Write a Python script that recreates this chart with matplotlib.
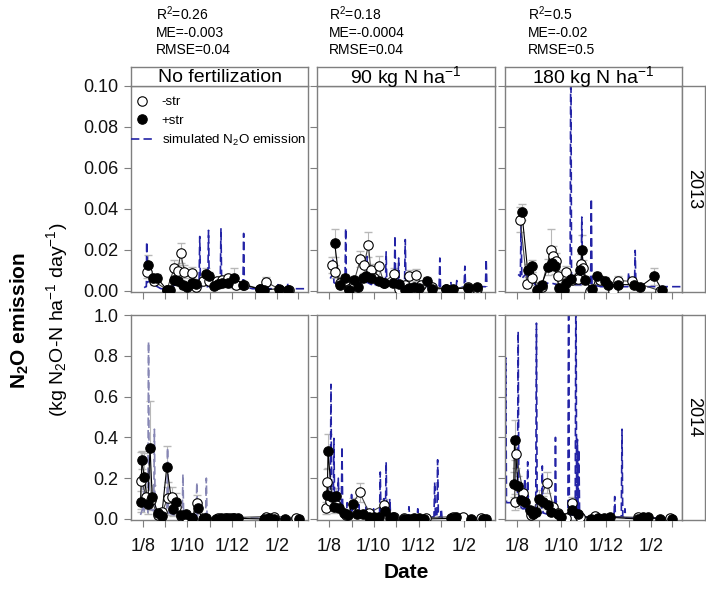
import matplotlib
matplotlib.use("Agg")
import matplotlib.pyplot as plt
from matplotlib.lines import Line2D

plt.rcParams['font.family'] = ['Liberation Sans', 'DejaVu Sans']
plt.rcParams['mathtext.fontset'] = 'custom'
plt.rcParams['mathtext.rm'] = 'Liberation Sans'
plt.rcParams['mathtext.it'] = 'Liberation Sans:italic'
plt.rcParams['mathtext.bf'] = 'Liberation Sans:bold'

# ---------------- data (x = days since 1 August) ----------------
treatments = ["No fertilization", "90 kg N ha$^{-1}$", "180 kg N ha$^{-1}$"]
years = ["2013", "2014"]
stats_r2 = ["0.26", "0.18", "0.5"]
stats_me = ["-0.003", "-0.0004", "-0.02"]
stats_rmse = ["0.04", "0.04", "0.5"]
tick_days = [0, 31, 61, 92, 122, 153, 184, 212]
tick_labels = ["1/8", "", "1/10", "", "1/12", "", "1/2", ""]

# 2013, no fertilization
nf13_m_day = [6, 16, 33, 43, 48, 52, 57, 68, 73, 82, 91, 102, 109, 116, 128, 139, 160, 168, 188, 200]
nf13_m_val = [0.0092, 0.0046, 0.0005, 0.011, 0.0098, 0.0184, 0.0094, 0.0085, 0.002, 0.005, 0.0046,
              0.0046, 0.0054, 0.006, 0.003, 0.003, 0.001, 0.0045, 0.0005, 0.0005]
nf13_m_sd = [0.003, 0.002, 0.001, 0.004, 0.003, 0.005, 0.003, 0.003, 0.001, 0.002, 0.002, 0.002,
             0.002, 0.002, 0.002, 0.001, 0.001, 0.002, 0.001, 0.001]
nf13_p_day = [7, 14, 20, 33, 38, 43, 48, 55, 61, 68, 73, 87, 91, 97, 103, 109, 116, 125, 137, 160, 166, 187, 199]
nf13_p_val = [0.0127, 0.0062, 0.0062, 0.0005, 0.0005, 0.0054, 0.0046, 0.003, 0.0018, 0.004, 0.0034,
              0.0083, 0.0073, 0.0024, 0.0034, 0.0037, 0.0037, 0.0062, 0.003, 0.0008, 0.0005, 0.001, 0.0002]
nf13_p_sd = [0.005, 0.002, 0.002, 0.001, 0.001, 0.002, 0.002, 0.002, 0.001, 0.002, 0.002, 0.003,
             0.002, 0.001, 0.002, 0.002, 0.002, 0.005, 0.001, 0.001, 0.001, 0.001, 0.001]
nf13_sim = [(2, 0.0015), (4, 0.002), (5, 0.002), (5.5, 0.024), (6, 0.004), (10, 0.005), (15, 0.003),
            (25, 0.001), (35, 0.001), (45, 0.003), (55, 0.004), (65, 0.003), (77, 0.003), (78, 0.0265),
            (79, 0.002), (89, 0.002), (90, 0.0295), (91, 0.002), (106, 0.002), (107, 0.0306), (108, 0.002),
            (120, 0.002), (137, 0.002), (138, 0.028), (139, 0.002), (150, 0.001), (169, 0.001), (170, 0.004),
            (171, 0.001), (184, 0.001), (185, 0.003), (186, 0.001), (197, 0.001), (198, 0.004), (199, 0.001),
            (210, 0.001), (223, 0.001)]

# 2013, 90 kg N
n9013_m_day = [5, 8, 15, 22, 28, 34, 43, 48, 54, 57, 62, 68, 75, 89, 96, 103, 109, 119, 126, 140, 160, 189, 201]
n9013_m_val = [0.0127, 0.0094, 0.004, 0.005, 0.001, 0.004, 0.0155, 0.0127, 0.0225, 0.0103, 0.006, 0.0119,
               0.004, 0.0083, 0.001, 0.003, 0.007, 0.0078, 0.003, 0.002, 0.001, 0.0018, 0.001]
n9013_m_sd = [0.004, 0.003, 0.002, 0.002, 0.001, 0.002, 0.004, 0.004, 0.006, 0.003, 0.002, 0.005,
              0.002, 0.003, 0.001, 0.001, 0.003, 0.003, 0.001, 0.001, 0.001, 0.001, 0.001]
n9013_p_day = [8, 15, 22, 28, 34, 40, 46, 50, 57, 68, 75, 87, 96, 103, 109, 116, 123, 133, 140, 160, 169, 189, 201]
n9013_p_val = [0.0233, 0.0029, 0.0062, 0.0005, 0.0054, 0.0018, 0.0062, 0.007, 0.0062, 0.0046, 0.0037,
               0.0037, 0.0034, 0.0005, 0.0013, 0.0018, 0.0013, 0.0046, 0.001, 0.001, 0.001, 0.0013, 0.0016]
n9013_p_sd = [0.007, 0.001, 0.002, 0.001, 0.002, 0.001, 0.002, 0.002, 0.002, 0.002, 0.001, 0.001,
              0.001, 0.001, 0.001, 0.001, 0.001, 0.002, 0.001, 0.001, 0.001, 0.001, 0.001]
n9013_sim = [(2, 0.006), (5, 0.008), (6, 0.015), (7, 0.004), (12, 0.003), (22, 0.003), (23, 0.0306),
             (24, 0.003), (30, 0.002), (40, 0.004), (51, 0.004), (52, 0.0168), (53, 0.004), (58, 0.003),
             (62, 0.008), (63, 0.003), (70, 0.003), (77, 0.003), (78, 0.019), (79, 0.003), (89, 0.003),
             (90, 0.027), (91, 0.003), (94, 0.003), (95, 0.016), (96, 0.003), (103, 0.003), (104, 0.025),
             (105, 0.002), (115, 0.002), (120, 0.004), (121, 0.002), (150, 0.002), (151, 0.016), (152, 0.001),
             (165, 0.001), (166, 0.004), (167, 0.001), (173, 0.001), (174, 0.005), (175, 0.001), (184, 0.002),
             (185, 0.012), (186, 0.002), (213, 0.002), (214, 0.0155), (215, 0.002)]

# 2013, 180 kg N
n18013_m_day = [5, 14, 21, 34, 47, 50, 54, 57, 68, 75, 84, 88, 91, 100, 114, 132, 139, 157, 196]
n18013_m_val = [0.0347, 0.0034, 0.006, 0.002, 0.02, 0.017, 0.0143, 0.007, 0.009, 0.0054, 0.0057, 0.013,
                0.011, 0.0, 0.0054, 0.0, 0.005, 0.0046, 0.0]
n18013_m_sd = [0.006, 0.002, 0.003, 0.001, 0.01, 0.005, 0.004, 0.003, 0.003, 0.002, 0.003, 0.005,
               0.004, 0.001, 0.002, 0.001, 0.002, 0.002, 0.001]
n18013_p_day = [7, 15, 21, 28, 34, 43, 48, 52, 58, 64, 68, 74, 87, 89, 93, 103, 110, 121, 125, 139, 160,
                169, 188, 199]
n18013_p_val = [0.0384, 0.0099, 0.0122, 0.0002, 0.003, 0.0116, 0.0138, 0.0122, 0.0013, 0.0002, 0.004,
                0.0059, 0.0102, 0.02, 0.0054, 0.0008, 0.007, 0.0046, 0.003, 0.003, 0.003, 0.002, 0.007, 0.0002]
n18013_p_sd = [0.004, 0.003, 0.003, 0.001, 0.002, 0.004, 0.004, 0.004, 0.001, 0.001, 0.002, 0.002,
               0.003, 0.007, 0.002, 0.001, 0.002, 0.002, 0.001, 0.001, 0.001, 0.001, 0.004, 0.001]
n18013_sim = [(2, 0.008), (5, 0.007), (6, 0.033), (7, 0.006), (12, 0.008), (20, 0.005), (28, 0.002),
              (35, 0.003), (45, 0.004), (55, 0.003), (65, 0.002), (73, 0.004), (74, 0.13), (75, 0.004),
              (80, 0.003), (88, 0.003), (89, 0.036), (90, 0.004), (101, 0.003), (102, 0.045), (103, 0.003),
              (115, 0.002), (152, 0.002), (153, 0.009), (154, 0.002), (161, 0.002), (162, 0.0197),
              (163, 0.002), (195, 0.002), (225, 0.002)]

# 2014, no fertilization
nf14_m_day = [-2, 5, 11, 21, 27, 34, 40, 46, 52, 59, 67, 74, 84, 103, 112, 119, 125, 169, 180, 210]
nf14_m_val = [0.188, 0.11, 0.093, 0.02, 0.036, 0.101, 0.109, 0.06, 0.015, 0.01, 0.005, 0.08, 0.007,
              0.003, 0.003, 0.007, 0.007, 0.012, 0.012, 0.007]
nf14_m_sd = [0.14, 0.06, 0.05, 0.02, 0.02, 0.08, 0.05, 0.04, 0.01, 0.01, 0.005, 0.04, 0.005, 0.003,
             0.003, 0.005, 0.005, 0.008, 0.008, 0.005]
nf14_p_day = [-3, -1, 2, 7, 10, 13, 21, 26, 33, 41, 46, 52, 59, 67, 75, 82, 87, 100, 107, 115, 123, 130,
              166, 173, 180, 194, 214]
nf14_p_val = [0.085, 0.29, 0.204, 0.074, 0.35, 0.109, 0.028, 0.016, 0.257, 0.047, 0.085, 0.02, 0.025,
              0.007, 0.052, 0.0, 0.007, 0.0, 0.003, 0.003, 0.007, 0.003, 0.0, 0.003, 0.0, 0.0, 0.0]
nf14_p_sd = [0.05, 0.045, 0.12, 0.05, 0.23, 0.06, 0.02, 0.01, 0.1, 0.03, 0.04, 0.01, 0.01, 0.005,
             0.03, 0.003, 0.005, 0.003, 0.003, 0.003, 0.005, 0.003, 0.003, 0.003, 0.003, 0.003, 0.003]
nf14_sim = [(-3, 0.02), (0, 0.05), (1, 0.2), (2, 0.03), (7, 0.03), (8, 0.87), (9, 0.05), (15, 0.04),
            (16, 0.44), (17, 0.04), (22, 0.02), (33, 0.03), (34, 0.35), (35, 0.03), (42, 0.02), (54, 0.01),
            (55, 0.22), (56, 0.01), (73, 0.01), (74, 0.18), (75, 0.01), (86, 0.01), (87, 0.2), (88, 0.01),
            (100, 0.005), (214, 0.005)]

# 2014, 90 kg N
n9014_m_day = [-4, -2, 2, 10, 23, 42, 55, 75, 89, 102, 116, 132, 169, 182, 207]
n9014_m_val = [0.052, 0.183, 0.088, 0.07, 0.02, 0.13, 0.03, 0.069, 0.011, 0.003, 0.0, 0.007, 0.011,
               0.008, 0.003]
n9014_m_sd = [0.03, 0.06, 0.04, 0.03, 0.01, 0.045, 0.015, 0.03, 0.005, 0.003, 0.003, 0.005, 0.005,
              0.004, 0.003]
n9014_p_day = [-2, -1, 4, 7, 10, 14, 21, 26, 33, 39, 47, 55, 61, 68, 77, 83, 88, 102, 109, 116, 123, 130,
               166, 173, 194, 210, 214]
n9014_p_val = [0.118, 0.333, 0.11, 0.06, 0.113, 0.052, 0.028, 0.02, 0.072, 0.025, 0.023, 0.011, 0.008,
               0.008, 0.041, 0.003, 0.01, 0.0, 0.0, 0.003, 0.003, 0.0, 0.003, 0.008, 0.0, 0.0, 0.0]
n9014_p_sd = [0.05, 0.085, 0.04, 0.03, 0.04, 0.02, 0.01, 0.01, 0.03, 0.01, 0.01, 0.005, 0.005, 0.005,
              0.02, 0.003, 0.005, 0.003, 0.003, 0.003, 0.003, 0.003, 0.003, 0.004, 0.003, 0.003, 0.003]
n9014_sim = [(-4, 0.05), (-1, 0.06), (2, 0.05), (3, 0.66), (4, 0.05), (6, 0.05), (7, 0.395), (8, 0.05),
             (12, 0.04), (13, 0.2), (14, 0.04), (17, 0.03), (18, 0.355), (19, 0.03), (24, 0.02), (25, 0.08),
             (26, 0.02), (30, 0.02), (31, 0.12), (32, 0.02), (40, 0.02), (41, 0.07), (42, 0.02), (50, 0.015),
             (51, 0.06), (52, 0.015), (60, 0.015), (61, 0.05), (62, 0.015), (69, 0.02), (70, 0.23), (71, 0.02),
             (74, 0.02), (75, 0.1), (76, 0.02), (77, 0.02), (78, 0.28), (79, 0.02), (82, 0.02), (83, 0.1),
             (84, 0.02), (95, 0.01), (108, 0.01), (109, 0.06), (110, 0.01), (120, 0.01), (121, 0.05),
             (122, 0.01), (143, 0.01), (144, 0.18), (145, 0.01), (147, 0.01), (148, 0.29), (149, 0.01),
             (152, 0.01), (153, 0.05), (154, 0.005), (214, 0.005)]

# 2014, 180 kg N
n18014_m_day = [-3, -1, 9, 19, 42, 50, 57, 68, 75, 86, 107, 166, 209]
n18014_m_val = [0.082, 0.319, 0.126, 0.02, 0.178, 0.06, 0.03, 0.003, 0.08, 0.01, 0.013, 0.008, 0.003]
n18014_m_sd = [0.04, 0.07, 0.05, 0.01, 0.05, 0.03, 0.015, 0.003, 0.03, 0.005, 0.005, 0.004, 0.003]
n18014_p_day = [-4, -3, 2, 6, 11, 18, 22, 27, 31, 36, 43, 47, 57, 61, 75, 84, 102, 111, 119, 127, 166,
                173, 180, 196, 212]
n18014_p_val = [0.17, 0.387, 0.16, 0.093, 0.085, 0.044, 0.025, 0.036, 0.1, 0.085, 0.069, 0.036, 0.025,
                0.008, 0.044, 0.025, 0.0, 0.003, 0.003, 0.008, 0.0, 0.008, 0.008, 0.0, 0.0]
n18014_p_sd = [0.06, 0.1, 0.05, 0.04, 0.03, 0.02, 0.01, 0.02, 0.04, 0.03, 0.02, 0.015, 0.01, 0.005,
               0.02, 0.01, 0.003, 0.003, 0.003, 0.005, 0.003, 0.004, 0.004, 0.003, 0.003]
n18014_sim = [(-16, 0.08), (-15, 0.79), (-14, 0.08), (-5, 0.08), (1, 0.07), (2, 0.92), (3, 0.07),
              (8, 0.05), (10, 0.05), (11, 0.2), (12, 0.05), (14, 0.04), (15, 0.28), (16, 0.04), (20, 0.03),
              (26, 0.03), (27, 0.96), (28, 0.03), (34, 0.03), (35, 0.26), (36, 0.03), (45, 0.02), (52, 0.02),
              (53, 0.40), (54, 0.02), (60, 0.02), (70, 0.02), (71, 1.3), (72, 0.02), (80, 0.02), (81, 1.3),
              (82, 0.02), (83, 0.39), (84, 0.02), (85, 0.34), (86, 0.02), (95, 0.01), (133, 0.01),
              (134, 0.11), (135, 0.01), (143, 0.01), (144, 0.44), (145, 0.01), (147, 0.01), (148, 0.05),
              (149, 0.005), (214, 0.005)]

panels = [
    [(nf13_m_day, nf13_m_val, nf13_m_sd, nf13_p_day, nf13_p_val, nf13_p_sd, nf13_sim),
     (n9013_m_day, n9013_m_val, n9013_m_sd, n9013_p_day, n9013_p_val, n9013_p_sd, n9013_sim),
     (n18013_m_day, n18013_m_val, n18013_m_sd, n18013_p_day, n18013_p_val, n18013_p_sd, n18013_sim)],
    [(nf14_m_day, nf14_m_val, nf14_m_sd, nf14_p_day, nf14_p_val, nf14_p_sd, nf14_sim),
     (n9014_m_day, n9014_m_val, n9014_m_sd, n9014_p_day, n9014_p_val, n9014_p_sd, n9014_sim),
     (n18014_m_day, n18014_m_val, n18014_m_sd, n18014_p_day, n18014_p_val, n18014_p_sd, n18014_sim)],
]

# ---------------- layout ----------------
W, H = 706, 594
fig = plt.figure(figsize=(W / 100, H / 100), dpi=100)

def fx(px):
    return px / W

def fy(py):
    return 1 - py / H

col_x = [(131, 308), (317, 495), (505, 682)]
row_y = [(86, 292), (315, 520)]
ylims = [(-0.0006, 0.10), (-0.005, 1.0)]
yticks = [[0, 0.02, 0.04, 0.06, 0.08, 0.10], [0, 0.2, 0.4, 0.6, 0.8, 1.0]]
yfmt = ["{:.2f}", "{:.1f}"]
frame_col = "#7f7f7f"
sim_main = "#2323a6"
sim_cols = [[sim_main, sim_main, sim_main], ["#8686b4", sim_main, sim_main]]

for r in range(2):
    for c in range(3):
        x0, x1 = col_x[c]
        y0, y1 = row_y[r]
        ax = fig.add_axes([fx(x0), fy(y1), fx(x1 - x0), (y1 - y0) / H])
        md, mv, ms, pd_, pv, ps, sim = panels[r][c]
        sd_ = [s[0] for s in sim]
        sv_ = [s[1] for s in sim]
        ax.errorbar(md, mv, yerr=ms, fmt='none', ecolor='#b8b8b8', elinewidth=0.8, capsize=3, zorder=1)
        ax.errorbar(pd_, pv, yerr=ps, fmt='none', ecolor='#b8b8b8', elinewidth=0.8, capsize=3, zorder=1)
        ax.plot(sd_, sv_, color=sim_cols[r][c], lw=1.2, linestyle=(0, (5, 2.5)), zorder=2)
        ax.plot(md, mv, color='#444444', lw=0.8, zorder=3)
        ax.plot(pd_, pv, color='black', lw=0.8, zorder=3)
        ax.plot(md, mv, 'o', ms=6.8, mfc='white', mec='black', mew=0.8, ls='none', zorder=4)
        ax.plot(pd_, pv, 'o', ms=6.8, mfc='black', mec='black', mew=0.8, ls='none', zorder=5)
        ax.set_xlim(-16, 226)
        ax.set_ylim(*ylims[r])
        ax.set_xticks(tick_days)
        ax.set_yticks(yticks[r])
        if c == 0:
            ax.set_yticklabels([yfmt[r].format(v) for v in yticks[r]])
        else:
            ax.set_yticklabels([])
        if r == 1:
            ax.set_xticklabels(tick_labels)
        else:
            ax.set_xticklabels([])
        ax.tick_params(direction='out', length=5, width=0.8, color=frame_col, labelsize=13,
                       labelcolor='#111111')
        ax.tick_params(axis='x', pad=8)
        ax.tick_params(axis='y', pad=4)
        for sp in ax.spines.values():
            sp.set_color(frame_col)
            sp.set_linewidth(1.0)
        if r == 0 and c == 0:
            handles = [Line2D([], [], marker='o', ls='none', ms=6.8, mfc='white', mec='black', mew=0.8),
                       Line2D([], [], marker='o', ls='none', ms=6.8, mfc='black', mec='black', mew=0.8),
                       Line2D([], [], color=sim_main, lw=1.2, ls=(0, (5, 2.5)))]
            ax.legend(handles, ["-str", "+str", "simulated N$_2$O emission"], loc='upper left',
                      bbox_to_anchor=(-0.045, 0.99), frameon=False, fontsize=9.6, handlelength=1.6,
                      handletextpad=0.7, labelspacing=0.45, borderaxespad=0.2)

# top strips
for c in range(3):
    x0, x1 = col_x[c]
    sax = fig.add_axes([fx(x0), fy(86), fx(x1 - x0), 19 / H])
    sax.set_xticks([]); sax.set_yticks([])
    for sp in sax.spines.values():
        sp.set_color(frame_col)
        sp.set_linewidth(1.0)
    sax.text(0.5, 0.45, treatments[c], ha='center', va='center', fontsize=14, transform=sax.transAxes)
    tx = [156, 329, 528][c]
    fig.text(fx(tx), fy(20), "R$^2$=" + stats_r2[c], fontsize=10, va='baseline')
    fig.text(fx(tx), fy(37), "ME=" + stats_me[c], fontsize=10, va='baseline')
    fig.text(fx(tx), fy(54), "RMSE=" + stats_rmse[c], fontsize=10, va='baseline')

# right strips
for r in range(2):
    y0, y1 = row_y[r]
    sax = fig.add_axes([fx(682), fy(y1), fx(23), (y1 - y0) / H])
    sax.set_xticks([]); sax.set_yticks([])
    for sp in sax.spines.values():
        sp.set_color(frame_col)
        sp.set_linewidth(1.0)
    sax.text(0.5, 0.5, years[r], ha='center', va='center', rotation=270, fontsize=13,
             transform=sax.transAxes)

fig.text(fx(20), fy(320), r"$\mathbf{N_2O\ emission}$", rotation=90, ha='center', va='center', fontsize=15)
fig.text(fx(57), fy(320), "(kg N$_2$O-N ha$^{-1}$ day$^{-1}$)", rotation=90, ha='center', va='center',
         fontsize=14)
fig.text(fx(406), fy(572), "Date", ha='center', va='center', fontsize=15, fontweight='bold')

fig.savefig("out.png", dpi=100)
